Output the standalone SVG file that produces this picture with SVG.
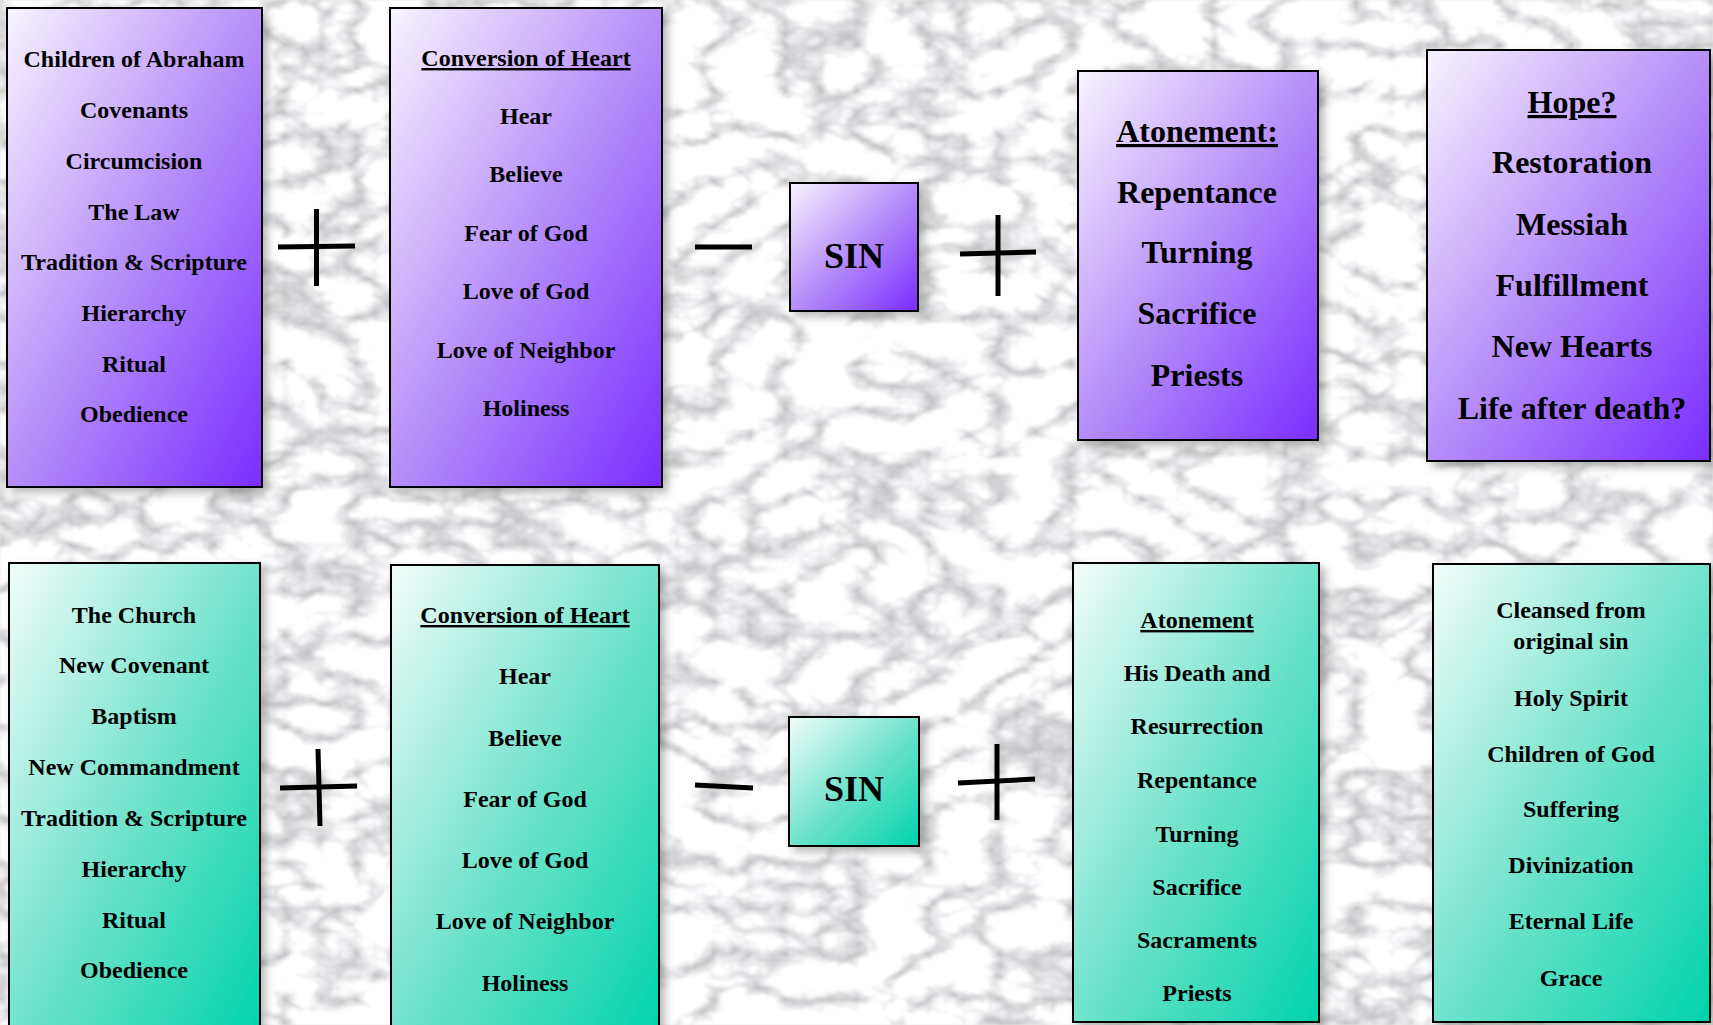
<svg xmlns="http://www.w3.org/2000/svg" width="1713" height="1025" viewBox="0 0 1713 1025">
<defs>
<linearGradient id="gPurple" x1="0" y1="0" x2="1" y2="1">
<stop offset="0" stop-color="#f8f4ff"/>
<stop offset="0.5" stop-color="#b68ef9"/>
<stop offset="1" stop-color="#7a2cff"/>
</linearGradient>
<linearGradient id="gTeal" x1="0" y1="0" x2="1" y2="1">
<stop offset="0" stop-color="#f2fdfa"/>
<stop offset="0.5" stop-color="#72e3cc"/>
<stop offset="1" stop-color="#00d3ad"/>
</linearGradient>
<filter id="marble" x="0" y="0" width="100%" height="100%" color-interpolation-filters="sRGB">
<feTurbulence type="turbulence" baseFrequency="0.014 0.022" numOctaves="4" seed="7" result="t"/>
<feColorMatrix in="t" type="matrix" values="0.75 0 0 0 0.74  0.75 0 0 0 0.74  0.75 0 0 0 0.75  0 0 0 0 1" result="c"/>
<feGaussianBlur in="c" stdDeviation="1.2"/>
</filter>
<filter id="shadow" x="-10%" y="-10%" width="125%" height="125%">
<feDropShadow dx="5" dy="5" stdDeviation="4" flood-color="#555" flood-opacity="0.4"/>
</filter>
</defs>
<style>
.box{stroke:#000;stroke-width:2;filter:url(#shadow)}
.p{fill:url(#gPurple)}
.t{fill:url(#gTeal)}
text{font-family:"Liberation Serif","Times New Roman",serif;font-weight:bold;fill:#000;text-anchor:middle}
.s24{font-size:24px}
.s32{font-size:32px}
.s36{font-size:36px}
.u{text-decoration:underline}
.op{stroke:#000;stroke-width:5;stroke-linecap:butt;fill:none}
</style>
<rect x="0" y="0" width="1713" height="1025" fill="#e6e6e6"/>
<rect x="0" y="0" width="1713" height="1025" filter="url(#marble)"/>

<g id="operators">
<line class="op" x1="278" y1="247" x2="355" y2="246"/>
<line class="op" x1="316.5" y1="209" x2="316.5" y2="286"/>
<line class="op" x1="695" y1="247" x2="752" y2="247"/>
<line class="op" x1="960" y1="254" x2="1036" y2="252"/>
<line class="op" x1="998" y1="215" x2="998" y2="296"/>
<line class="op" x1="280" y1="788" x2="357" y2="786"/>
<line class="op" x1="318" y1="749" x2="320" y2="826"/>
<line class="op" x1="695" y1="785" x2="753" y2="788"/>
<line class="op" x1="958" y1="783" x2="1035" y2="779"/>
<line class="op" x1="997" y1="744" x2="997" y2="820"/>
</g>

<g id="node-old-covenant">
<rect class="box p" x="7" y="8" width="255" height="479"/>
<g class="s24">
<text x="134" y="67">Children of Abraham</text>
<text x="134" y="118">Covenants</text>
<text x="134" y="169">Circumcision</text>
<text x="134" y="220">The Law</text>
<text x="134" y="270">Tradition &amp; Scripture</text>
<text x="134" y="321">Hierarchy</text>
<text x="134" y="372">Ritual</text>
<text x="134" y="422">Obedience</text>
</g>
</g>

<g id="node-conversion-old">
<rect class="box p" x="390" y="8" width="272" height="479"/>
<g class="s24">
<text class="u" x="526" y="66">Conversion of Heart</text>
<text x="526" y="124">Hear</text>
<text x="526" y="182">Believe</text>
<text x="526" y="241">Fear of God</text>
<text x="526" y="299">Love of God</text>
<text x="526" y="358">Love of Neighbor</text>
<text x="526" y="416">Holiness</text>
</g>
</g>

<g id="node-sin-old">
<rect class="box p" x="790" y="183" width="128" height="128"/>
<text class="s36" x="854" y="268">SIN</text>
</g>

<g id="node-atonement-old">
<rect class="box p" x="1078" y="71" width="240" height="369"/>
<g class="s32">
<text class="u" x="1197" y="142">Atonement:</text>
<text x="1197" y="203">Repentance</text>
<text x="1197" y="263">Turning</text>
<text x="1197" y="324">Sacrifice</text>
<text x="1197" y="386">Priests</text>
</g>
</g>

<g id="node-hope">
<rect class="box p" x="1427" y="50" width="283" height="411"/>
<g class="s32">
<text class="u" x="1572" y="113">Hope?</text>
<text x="1572" y="173">Restoration</text>
<text x="1572" y="235">Messiah</text>
<text x="1572" y="296">Fulfillment</text>
<text x="1572" y="357">New Hearts</text>
<text x="1572" y="419">Life after death?</text>
</g>
</g>

<g id="node-church">
<rect class="box t" x="9" y="563" width="251" height="475"/>
<g class="s24">
<text x="134" y="623">The Church</text>
<text x="134" y="673">New Covenant</text>
<text x="134" y="724">Baptism</text>
<text x="134" y="775">New Commandment</text>
<text x="134" y="826">Tradition &amp; Scripture</text>
<text x="134" y="877">Hierarchy</text>
<text x="134" y="928">Ritual</text>
<text x="134" y="978">Obedience</text>
</g>
</g>

<g id="node-conversion-new">
<rect class="box t" x="391" y="565" width="268" height="475"/>
<g class="s24">
<text class="u" x="525" y="623">Conversion of Heart</text>
<text x="525" y="684">Hear</text>
<text x="525" y="746">Believe</text>
<text x="525" y="807">Fear of God</text>
<text x="525" y="868">Love of God</text>
<text x="525" y="929">Love of Neighbor</text>
<text x="525" y="991">Holiness</text>
</g>
</g>

<g id="node-sin-new">
<rect class="box t" x="789" y="717" width="130" height="129"/>
<text class="s36" x="854" y="801">SIN</text>
</g>

<g id="node-atonement-new">
<rect class="box t" x="1073" y="563" width="246" height="459"/>
<g class="s24">
<text class="u" x="1197" y="628">Atonement</text>
<text x="1197" y="681">His Death and</text>
<text x="1197" y="734">Resurrection</text>
<text x="1197" y="788">Repentance</text>
<text x="1197" y="842">Turning</text>
<text x="1197" y="895">Sacrifice</text>
<text x="1197" y="948">Sacraments</text>
<text x="1197" y="1001">Priests</text>
</g>
</g>

<g id="node-grace">
<rect class="box t" x="1433" y="564" width="277" height="458"/>
<g class="s24">
<text x="1571" y="618">Cleansed from</text>
<text x="1571" y="649">original sin</text>
<text x="1571" y="706">Holy Spirit</text>
<text x="1571" y="762">Children of God</text>
<text x="1571" y="817">Suffering</text>
<text x="1571" y="873">Divinization</text>
<text x="1571" y="929">Eternal Life</text>
<text x="1571" y="986">Grace</text>
</g>
</g>
</svg>
